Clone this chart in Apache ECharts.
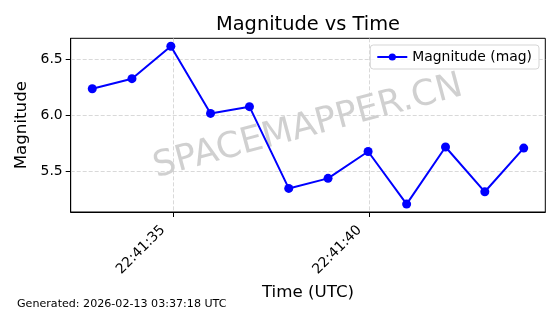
<!DOCTYPE html>
<html>
<head>
<meta charset="utf-8">
<script src="https://cdn.jsdelivr.net/npm/echarts@6/dist/echarts.min.js"></script>
<style>html,body{margin:0;padding:0;background:#fff}#c{width:560px;height:314px}</style>
</head>
<body>
<div id="c"></div>
<script>
// Observation times (UTC) and magnitudes
const times = ["22:41:32.95","22:41:33.96","22:41:34.95","22:41:35.96","22:41:36.95","22:41:37.95","22:41:38.95","22:41:39.97","22:41:40.95","22:41:41.94","22:41:42.94","22:41:43.93"];
const magnitudes = [6.24, 6.33, 6.62, 6.02, 6.08, 5.35, 5.44, 5.68, 5.21, 5.72, 5.32, 5.71];
const xTickLabels = ["22:41:35", "22:41:40"];
const yTickValues = [5.5, 6.0, 6.5];

function toSec(t) { const p = t.split(":"); return (+p[0]) * 3600 + (+p[1]) * 60 + parseFloat(p[2]); }
function fmtSec(s) {
  s = Math.round(s);
  const h = Math.floor(s / 3600), m = Math.floor((s % 3600) / 60), sec = s % 60;
  const z = n => String(n).padStart(2, "0");
  return z(h) + ":" + z(m) + ":" + z(sec);
}
const xs = times.map(toSec);
const xTickValues = xTickLabels.map(toSec);
const data = xs.map((x, i) => [x, magnitudes[i]]);
const xMin = Math.min(...xs), xMax = Math.max(...xs);
const yMin = Math.min(...magnitudes), yMax = Math.max(...magnitudes);
const xPad = (xMax - xMin) * 0.05, yPad = (yMax - yMin) * 0.05;

const font = "DejaVu Sans";
const chart = echarts.init(document.getElementById("c"), null, { renderer: "canvas" });
chart.setOption({
  animation: false,
  textStyle: { fontFamily: font },
  title: {
    text: "Magnitude vs Time", left: 303, top: 10, textAlign: "center",
    textStyle: { fontFamily: font, fontSize: 19.4, fontWeight: "normal", color: "#000" }
  },
  legend: {
    right: 21, top: 45, itemWidth: 30, itemHeight: 9,
    padding: [5, 7, 5, 6], itemGap: 5,
    borderColor: "#d5d5d5", borderWidth: 1, borderRadius: 3,
    backgroundColor: "rgba(255,255,255,0.8)",
    textStyle: { fontFamily: font, fontSize: 13.9, color: "#000" },
    data: ["Magnitude (mag)"]
  },
  grid: {
    left: 70.7, right: 14.7, top: 38.3, bottom: 102,
    show: true, borderColor: "#000", borderWidth: 1, backgroundColor: "transparent"
  },
  xAxis: {
    type: "value", min: xMin - xPad, max: xMax + xPad,
    name: "Time (UTC)", nameLocation: "middle", nameGap: 69,
    nameTextStyle: { fontFamily: font, fontSize: 16.7, color: "#000" },
    axisLine: { show: true, lineStyle: { color: "#000", width: 1 } },
    axisTick: { show: true, customValues: xTickValues, length: 5, lineStyle: { color: "#000" } },
    axisLabel: {
      customValues: xTickValues, rotate: 45, margin: 6, padding: [0, 14, 0, 0],
      fontFamily: font, fontSize: 13.9, color: "#000",
      formatter: v => fmtSec(v)
    },
    splitLine: { show: true, lineStyle: { color: "#cfcfcf", type: [4, 2], width: 0.8 } }
  },
  yAxis: {
    type: "value", min: yMin - yPad, max: yMax + yPad,
    name: "Magnitude", nameLocation: "middle", nameGap: 35,
    nameTextStyle: { fontFamily: font, fontSize: 16.7, color: "#000" },
    axisLine: { show: true, lineStyle: { color: "#000", width: 1 } },
    axisTick: { show: true, customValues: yTickValues, length: 5, lineStyle: { color: "#000" } },
    axisLabel: {
      customValues: yTickValues, margin: 8,
      fontFamily: font, fontSize: 13.9, color: "#000",
      formatter: v => v.toFixed(1)
    },
    splitLine: { show: true, lineStyle: { color: "#cfcfcf", type: [4, 2], width: 0.8 } }
  },
  graphic: [
    {
      type: "text", x: 308, y: 127, rotation: 15 * Math.PI / 180, z: 0,
      style: {
        text: "SPACEMAPPER.CN", fontFamily: font, fontSize: 35.5,
        fill: "rgba(150,150,150,0.45)", align: "center", verticalAlign: "middle"
      }
    },
    {
      type: "text", left: 17, top: 299,
      style: { text: "Generated: 2026-02-13 03:37:18 UTC", fontFamily: font, fontSize: 11.1, fill: "#000" }
    }
  ],
  series: [{
    name: "Magnitude (mag)", type: "line", data: data,
    symbol: "circle", symbolSize: 9, z: 5,
    lineStyle: { color: "#0000ff", width: 2 },
    itemStyle: { color: "#0000ff" }
  }]
});
</script>
</body>
</html>
